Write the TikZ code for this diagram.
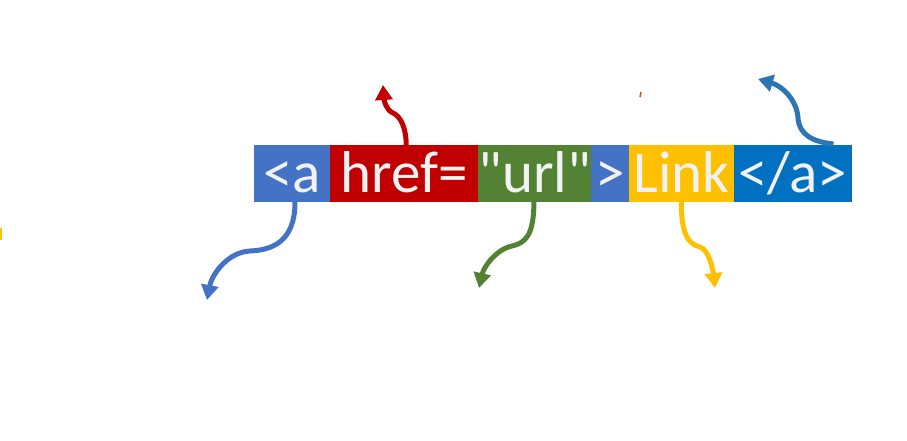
\documentclass[tikz,border=0pt]{standalone}
\usepackage{fontspec}
\newfontfamily\tagfont[Ligatures=TeXOff]{Carlito}
\usetikzlibrary{arrows.meta, positioning}

\definecolor{tagblue}{HTML}{4472C4}
\definecolor{tagred}{HTML}{C00000}
\definecolor{taggreen}{HTML}{548235}
\definecolor{tagyellow}{HTML}{FFC000}
\definecolor{tagnavy}{HTML}{0070C0}
\definecolor{tagsteel}{HTML}{2E75B6}
\definecolor{tagorange}{HTML}{C55A11}
\definecolor{tagtext}{HTML}{F2F2F2}

\begin{document}
\begin{tikzpicture}[
    x=1pt, y=-1pt,
    >={Triangle[width=17pt,length=15pt]},
    part/.style={
        inner xsep=0pt,
        inner ysep=0pt,
        outer sep=0pt,
        text height=47pt,
        text depth=10pt,
        text=tagtext,
        font=\tagfont\fontsize{59}{59}\selectfont
    },
    pointer/.style={->, line width=5pt}
]
\useasboundingbox (0,0) rectangle (907,441);

% ---------------- TAG PARTS ----------------
\node[part, fill=tagblue,   minimum width=76pt, anchor=west] (OPN) at (254,173.5)   {<a};
\node[part, fill=tagred,    minimum width=149pt]             (ATT) [right=-0.3pt of OPN] {href=};
\node[part, fill=taggreen,  minimum width=113pt]             (VAL) [right=-0.3pt of ATT] {"url"};
\node[part, fill=tagblue,   minimum width=38pt]              (GTR) [right=-0.3pt of VAL] {>};
\node[part, fill=tagyellow, minimum width=105pt]             (TXT) [right=-0.3pt of GTR] {Link};
\node[part, fill=tagnavy,   minimum width=118pt]             (CLS) [right=-0.3pt of TXT] {</a>};

% ---------------- POINTER ENDS ----------------
\coordinate (OPNend) at (207,300);
\coordinate (ATTend) at (383,85);
\coordinate (VALend) at (479,288);
\coordinate (TXTend) at (715,288);
\coordinate (CLSend) at (758,79);

% Down:
\draw[pointer, tagblue]   ([xshift=3pt]OPN.south)  .. controls +(0,40) and (272,250) .. (250,251)
                                                   .. controls (228,252) and (212,274) .. (OPNend);
\draw[pointer, taggreen]  ([xshift=-1pt]VAL.south) .. controls +(0,34) and (525,243) .. (512,246)
                                                   .. controls (497,249) and (484,266) .. (VALend);
\draw[pointer, tagyellow] (TXT.south)              .. controls +(0,32) and (688,244) .. (700,247)
                                                   .. controls (709,250) and (713,270) .. (TXTend);

% Up:
\draw[pointer, tagred]    ([xshift=2pt]ATT.north)  .. controls +(0,-18) and (400,116) .. (393,113)
                                                   .. controls (386,110) and (384,100) .. (ATTend);
\draw[pointer, tagsteel]  ([xshift=-18pt,yshift=1pt]CLS.north east) .. controls +(-20,-2) and (799,135) .. (798,118)
                                                   .. controls (797,100) and (782,86) .. (CLSend);

% stray bits at the edges
\draw[tagorange, line width=1.5pt] (641,92) -- (640,97);
\draw[tagyellow, line width=2pt] (0.8,228) -- (0.8,240);

\end{tikzpicture}
\end{document}
